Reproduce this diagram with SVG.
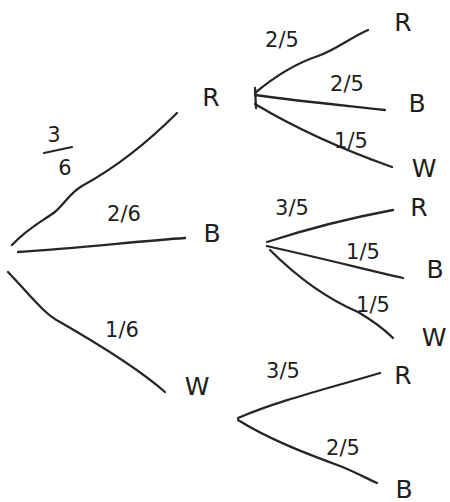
<svg xmlns="http://www.w3.org/2000/svg" width="450" height="502" viewBox="0 0 450 502">
<style>
.c{fill:none;stroke:#262626;stroke-width:2.3;stroke-linecap:round;stroke-linejoin:round}
.n{font-family:"DejaVu Sans","Liberation Sans",sans-serif;font-size:25px;fill:#1e1e1e;text-anchor:middle;dominant-baseline:central}
.p{font-family:"DejaVu Sans","Liberation Sans",sans-serif;font-size:21px;fill:#1e1e1e;text-anchor:middle;dominant-baseline:central}
.bar{stroke:#262626;stroke-width:2.2;stroke-linecap:round}
</style>
<rect width="450" height="502" fill="#ffffff"/>
<g id="connectors">
<path class="c" d="M12,245 C30,226 45,220 56,211 C66,202 70,193 82,186 C115,168 150,140 177,113"/>
<path class="c" d="M18,252 C80,248 140,241 185,238"/>
<path class="c" d="M8,272 C30,295 45,315 60,322 C100,345 140,370 165,392"/>
<path class="c" d="M255,93 C280,72 300,62 318,56 C335,50 350,38 368,30"/>
<path class="c" d="M255,95 C290,100 330,104 385,110"/>
<path class="c" d="M255,104 C290,125 330,145 392,167"/>
<path class="c" d="M255,88 L256,108"/>
<path class="c" d="M267,242 C310,228 350,218 393,210"/>
<path class="c" d="M267,246 C320,258 360,268 403,278"/>
<path class="c" d="M270,250 C300,280 330,300 358,312 C375,322 385,330 393,338"/>
<path class="c" d="M238,418 C280,400 330,388 380,373"/>
<path class="c" d="M238,420 C270,440 310,455 340,466 C355,472 368,479 377,483"/>
</g>
<g id="node-R1"><text class="n" x="211" y="97">R</text></g>
<g id="node-B1"><text class="n" x="212" y="233">B</text></g>
<g id="node-W1"><text class="n" x="197" y="386">W</text></g>
<g id="node-RR"><text class="n" x="403" y="22">R</text></g>
<g id="node-RB"><text class="n" x="417" y="103">B</text></g>
<g id="node-RW"><text class="n" x="424" y="168">W</text></g>
<g id="node-BR"><text class="n" x="419" y="207">R</text></g>
<g id="node-BB"><text class="n" x="435" y="269">B</text></g>
<g id="node-BW"><text class="n" x="434" y="337">W</text></g>
<g id="node-WR"><text class="n" x="403" y="375">R</text></g>
<g id="node-WB"><text class="n" x="404" y="489">B</text></g>
<g id="labels">
<g id="label-3-6"><text class="p" x="54" y="135">3</text><line class="bar" x1="44" y1="153" x2="72" y2="147"/><text class="p" x="65" y="168">6</text></g>
<text class="p" x="124" y="214">2/6</text>
<text class="p" x="122" y="330">1/6</text>
<text class="p" x="282" y="40">2/5</text>
<text class="p" x="347" y="84">2/5</text>
<text class="p" x="351" y="141">1/5</text>
<text class="p" x="292" y="208">3/5</text>
<text class="p" x="363" y="252">1/5</text>
<text class="p" x="373" y="305">1/5</text>
<text class="p" x="283" y="371">3/5</text>
<text class="p" x="343" y="448">2/5</text>
</g>
</svg>
